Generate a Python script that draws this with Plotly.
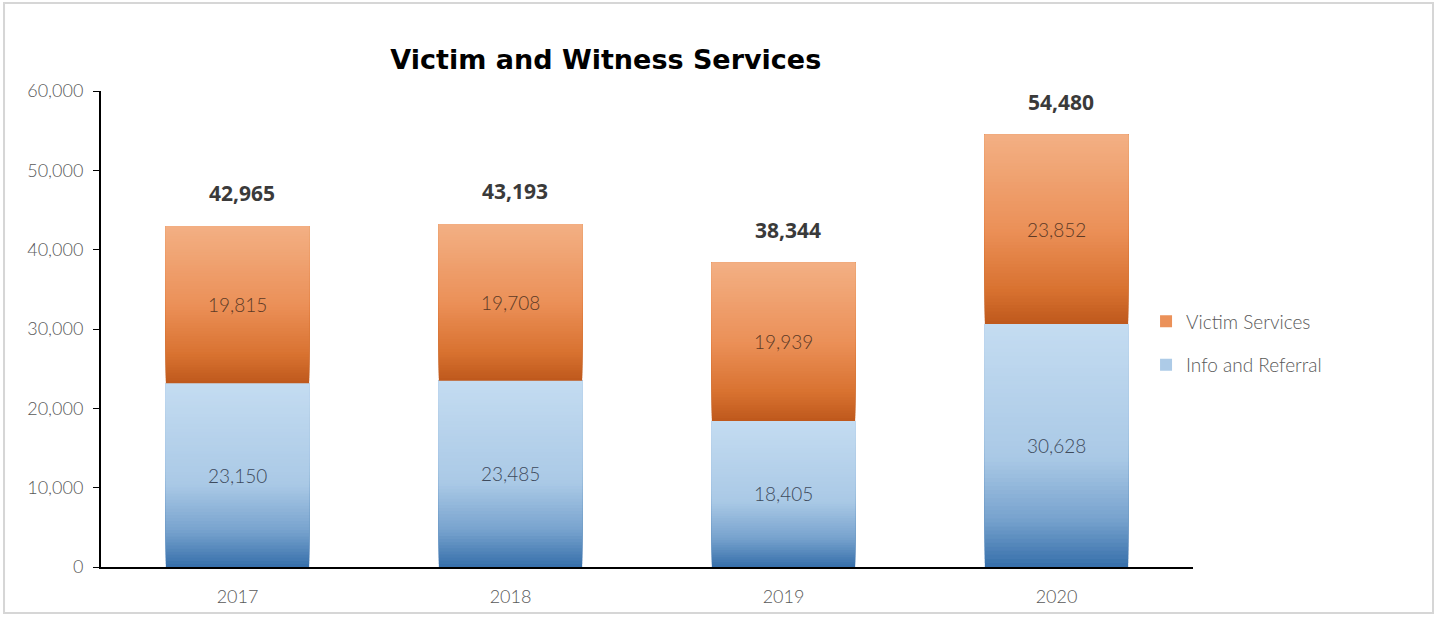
import plotly.graph_objects as go

# Data
years = ["2017", "2018", "2019", "2020"]
info_referral = [23150, 23485, 18405, 30628]
victim_services = [19815, 19708, 19939, 23852]
totals = [42965, 43193, 38344, 54480]

# Vertical gradient stops (fraction from top of segment -> colour)
blue_stops = [(0.0, (196, 220, 241)), (0.55, (170, 201, 230)), (0.8, (120, 163, 206)), (1.0, (54, 111, 170))]
orange_stops = [(0.0, (243, 176, 132)), (0.5, (235, 144, 88)), (0.82, (216, 114, 48)), (1.0, (190, 88, 28))]

N_SLICES = 60


def interp(stops, t):
    for (t0, c0), (t1, c1) in zip(stops[:-1], stops[1:]):
        if t <= t1:
            f = (t - t0) / (t1 - t0) if t1 > t0 else 0
            return "rgb(%d,%d,%d)" % tuple(round(a + (b - a) * f) for a, b in zip(c0, c1))
    return "rgb(%d,%d,%d)" % stops[-1][1]


fig = go.Figure()


def add_segment(values, bases, stops, name, group, rank):
    # each slice runs from its own start up to the segment top; later (higher)
    # slices paint over earlier ones, giving a seamless vertical gradient
    for i in range(N_SLICES):
        frac_bottom = i / N_SLICES
        t = 1 - (i + 0.5) / N_SLICES  # position measured from the top
        fig.add_trace(go.Bar(
            x=years,
            y=[v * (1 - frac_bottom) for v in values],
            base=[b + v * frac_bottom for b, v in zip(bases, values)],
            marker=dict(color=interp(stops, t), line=dict(width=0)),
            width=0.525,
            name=name,
            legendgroup=group,
            legendrank=rank,
            showlegend=(i == N_SLICES // 2),
            hoverinfo="skip",
        ))


add_segment(info_referral, [0] * 4, blue_stops, "Info and Referral", "info", 2)
add_segment(victim_services, info_referral, orange_stops, "Victim Services", "victim", 1)

seg_font = dict(family="Lato, 'Noto Sans', sans-serif", size=19, weight=300, color="#3d4a5c")

# segment value labels (x given as category index)
for i, (a, b) in enumerate(zip(info_referral, victim_services)):
    fig.add_annotation(x=i, y=a / 2, text=f"{a:,}", showarrow=False, font=seg_font)
    fig.add_annotation(x=i, y=a + b / 2, text=f"{b:,}", showarrow=False,
                       font=dict(seg_font, color="#5c3a26"))

# totals above bars
for i, tot in enumerate(totals):
    fig.add_annotation(x=i, y=tot, yshift=33, xshift=4, text=f"<b>{tot:,}</b>", showarrow=False,
                       font=dict(family="'Open Sans', 'Noto Sans', sans-serif", size=21, color="#3a3a3a"))

tick_font = dict(family="Lato, 'Noto Sans', sans-serif", size=18, weight=300, color="#595959")

fig.update_layout(
    barmode="overlay",
    width=1439,
    height=618,
    margin=dict(l=101, r=246, t=91, b=51),
    paper_bgcolor="white",
    plot_bgcolor="white",
    title=dict(
        text="<b>Victim and Witness Services</b>",
        x=0.421, xanchor="center", y=0.903, yanchor="middle",
        font=dict(family="'DejaVu Sans', sans-serif", size=27, color="black"),
    ),
    legend=dict(
        x=0.957, y=0.47, xanchor="left", yanchor="middle",
        traceorder="grouped",
        font=dict(family="Lato, 'Noto Sans', sans-serif", size=19, weight=300, color="#595959"),
        itemwidth=30, tracegroupgap=16,
    ),
    xaxis=dict(
        type="category",
        range=[-0.5, 3.5],
        showline=True, linecolor="black", linewidth=2,
        ticks="", showgrid=False, ticklabelstandoff=12,
        tickfont=tick_font,
    ),
    yaxis=dict(
        range=[0, 60000], autorange=False,
        tickvals=[0, 10000, 20000, 30000, 40000, 50000, 60000],
        tickformat=",d",
        showline=True, linecolor="black", linewidth=2,
        ticks="outside", ticklen=6, tickcolor="black", ticklabelstandoff=6,
        showgrid=False, zeroline=False,
        tickfont=tick_font,
    ),
    shapes=[dict(
        type="rect", xref="paper", yref="paper",
        x0=-0.0888, x1=1.2198, y0=-0.0966, y1=1.185,
        line=dict(color="#d6d6d6", width=2), fillcolor="rgba(0,0,0,0)",
    )],
)

fig.write_html("out.html")
